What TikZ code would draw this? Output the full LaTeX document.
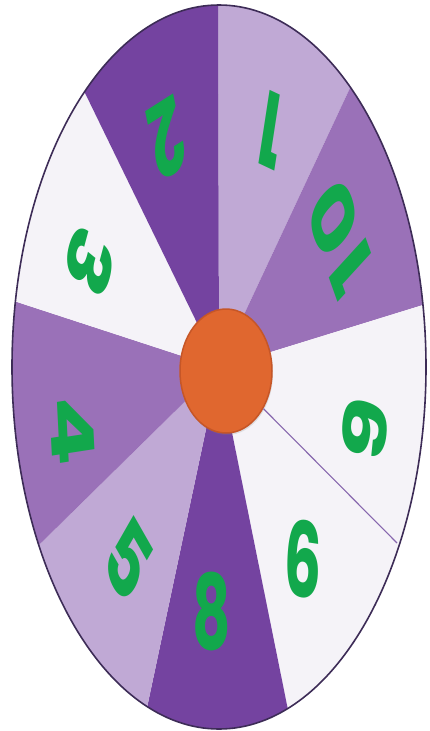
\documentclass[tikz,border=0pt]{standalone}
\usepackage{fontspec}
\setmainfont{Poppins}
\usepackage{graphicx}
\usepackage{tikz}
\usetikzlibrary{calc,shapes.geometric,shadows}
\definecolor{wheeldark}{HTML}{7443A0}
\definecolor{wheelmid}{HTML}{9A71B8}
\definecolor{wheellight}{HTML}{C0A9D5}
\definecolor{wheelwhite}{HTML}{F5F3F8}
\definecolor{rimdark}{HTML}{3D2C57}
\definecolor{wheelline}{HTML}{8767AE}
\definecolor{numgreen}{HTML}{12A84C}
\definecolor{huborange}{HTML}{E0672F}
\definecolor{hubedge}{HTML}{C65627}
\newcommand{\spin}[2]{\scalebox{0.57}[1]{\rotatebox{#1}{#2}}}

\begin{document}
\begin{tikzpicture}[
  x=1pt,
  y=-1pt,
  num/.style={
    text=numgreen,
    inner sep=0pt,
    font=\bfseries\fontsize{104}{104}\selectfont
  },
  hub/.style={
    ellipse,
    fill=huborange,
    draw=hubedge,
    line width=1.5pt,
    minimum width=92pt,
    minimum height=124pt,
    inner sep=0pt,
    drop shadow={opacity=0.2, shadow xshift=1pt, shadow yshift=-2pt}
  },
  rim/.style={
    draw=rimdark,
    line width=1.6pt
  },
  divider/.style={
    draw=wheelline,
    line width=1.1pt
  }
]

\useasboundingbox (0,0) rectangle (430,731);

% wheel centre and sector edges on the rim
\coordinate (w)  at (219,368);
\coordinate (e1) at (218,5);
\coordinate (e2) at (350,88);
\coordinate (e3) at (423,305);
\coordinate (e4) at (397,543);
\coordinate (e5) at (287,705);
\coordinate (e6) at (148,703);
\coordinate (e7) at (42,542);
\coordinate (e8) at (17,302);
\coordinate (e9) at (85,93);

% Sectors, clockwise from the top
\begin{scope}
\clip (219,367) ellipse [x radius=207, y radius=362];
\fill[wheellight] (w) -- ($(w)!2.5!(e1)$) -- ($(w)!2.5!(e2)$) -- cycle;
\fill[wheelmid]   (w) -- ($(w)!2.5!(e2)$) -- ($(w)!2.5!(e3)$) -- cycle;
\fill[wheelwhite] (w) -- ($(w)!2.5!(e3)$) -- ($(w)!2.5!(e4)$) -- cycle;
\fill[wheelwhite] (w) -- ($(w)!2.5!(e4)$) -- ($(w)!2.5!(e5)$) -- cycle;
\fill[wheeldark]  (w) -- ($(w)!2.5!(e5)$) -- ($(w)!2.5!(e6)$) -- cycle;
\fill[wheellight] (w) -- ($(w)!2.5!(e6)$) -- ($(w)!2.5!(e7)$) -- cycle;
\fill[wheelmid]   (w) -- ($(w)!2.5!(e7)$) -- ($(w)!2.5!(e8)$) -- cycle;
\fill[wheelwhite] (w) -- ($(w)!2.5!(e8)$) -- ($(w)!2.5!(e9)$) -- cycle;
\fill[wheeldark]  (w) -- ($(w)!2.5!(e9)$) -- ($(w)!2.5!(e1)$) -- cycle;
\end{scope}
\draw[rim] (219,367) ellipse [x radius=207, y radius=362];

% Numbers
\node[num] (n1)  at (271,130) {\spin{165}{1}};
\node[num] (n10) at (340,237) {\spin{122}{1\kern6pt 0}};
\node[num] (n9)  at (365,429) {\spin{80}{9}};
\node[num] (n6)  at (303,559) {\spin{-5}{6}};
\node[num] (n8)  at (212,611) {\spin{0}{8}};
\node[num] (n5)  at (128,560) {\spin{-45}{5}};
\node[num] (n4)  at (73,430)  {\spin{-85}{4}};
\node[num] (n3)  at (90,262)  {\spin{-115}{3}};
\node[num] (n2)  at (167,138) {\spin{200}{2}};

% Hub
\node[hub] (hub) at (226,371) {};
\draw[divider] (hub) -- (e4);

\end{tikzpicture}
\end{document}
